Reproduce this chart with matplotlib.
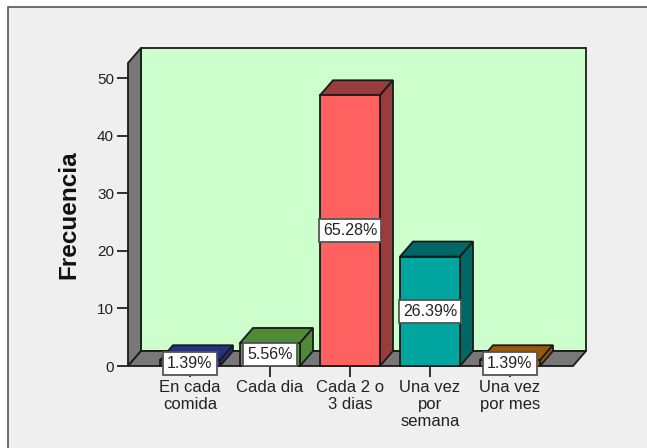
import matplotlib
matplotlib.use('Agg')
import matplotlib.pyplot as plt
from matplotlib.patches import Polygon, Rectangle

categories = ['En cada\ncomida', 'Cada dia', 'Cada 2 o\n3 dias', 'Una vez\npor\nsemana', 'Una vez\npor mes']
counts = [1, 4, 47, 19, 1]
percent_labels = ['1.39%', '5.56%', '65.28%', '26.39%', '1.39%']
y_ticks = [0, 10, 20, 30, 40, 50]

front_colors = ['#2b3a9e', '#5fa040', '#ff6060', '#00a5a0', '#b06a10']
top_colors = ['#26327f', '#4f8a35', '#993c3c', '#006666', '#96590c']
side_colors = ['#26327f', '#4f8a35', '#993c3c', '#006666', '#96590c']

W, H = 647, 448
plt.rcParams['font.family'] = ['Liberation Sans', 'DejaVu Sans']

fig = plt.figure(figsize=(W / 100, H / 100), dpi=100, facecolor='white')

# grey panel with its frame, running off the right and bottom edges
fig.add_artist(Rectangle((8 / W, -0.1), 1.1, 1.1 - 7 / H, transform=fig.transFigure,
                         facecolor='#efefef', edgecolor='#555555', linewidth=1.2, zorder=-1))

left, right, top, bottom = 128, 573, 63, 366
ax = fig.add_axes([left / W, 1 - bottom / H, (right - left) / W, (bottom - top) / H])
ax.set_xlim((left - 190) / 80, (right - 190) / 80)
ax.set_ylim(0, (bottom - top) / 5.76)
ax.patch.set_visible(False)
for s in ax.spines.values():
    s.set_visible(False)

x0, x1 = ax.get_xlim()
y1 = ax.get_ylim()[1]
dx = 13 / 80
dy = 15 / 5.76
edge = dict(edgecolor='#1a1a1a', linewidth=1.3, clip_on=False)

# back wall, left wall, floor
ax.add_patch(Rectangle((x0 + dx, dy), x1 - x0, y1, facecolor='#ccffcc', zorder=1, **edge))
ax.add_patch(Polygon([(x0, 0), (x0 + dx, dy), (x0 + dx, y1 + dy), (x0, y1)], facecolor='#787878', zorder=1, **edge))
ax.add_patch(Polygon([(x0, 0), (x1, 0), (x1 + dx, dy), (x0 + dx, dy)], facecolor='#787878', zorder=1, **edge))

bar_w = 0.75
for i, (v, fc, tc, sc) in enumerate(zip(counts, front_colors, top_colors, side_colors)):
    a, b = i - bar_w / 2, i + bar_w / 2
    ax.add_patch(Polygon([(a, v), (b, v), (b + dx, v + dy), (a + dx, v + dy)], facecolor=tc, zorder=3 + i, **edge))
    ax.add_patch(Polygon([(b, 0), (b + dx, dy), (b + dx, v + dy), (b, v)], facecolor=sc, zorder=3 + i, **edge))
    ax.add_patch(Rectangle((a, 0), bar_w, v, facecolor=fc, zorder=3 + i, **edge))

for i, (v, lab) in enumerate(zip(counts, percent_labels)):
    ax.text(i, v / 2, lab, ha='center', va='center', fontsize=11.5, color='#222222', zorder=20,
            bbox=dict(boxstyle='square,pad=0.25', facecolor='white', edgecolor='#555555', linewidth=1.3))

ax.set_xticks(range(len(categories)))
ax.set_xticklabels(categories, fontsize=12, color='#222222', linespacing=1.16)
ax.set_yticks(y_ticks)
ax.set_yticklabels([str(t) for t in y_ticks], fontsize=11, color='#222222')
ax.tick_params(axis='both', length=8, width=1.3, color='#222222', pad=2)
ax.set_ylabel('Frecuencia', fontsize=17.5, fontweight='bold', color='#111111', labelpad=0)
ax.yaxis.set_label_coords((80 - left) / (right - left), (bottom - 215) / (bottom - top))

fig.savefig('out.png', dpi=100, facecolor=fig.get_facecolor())
